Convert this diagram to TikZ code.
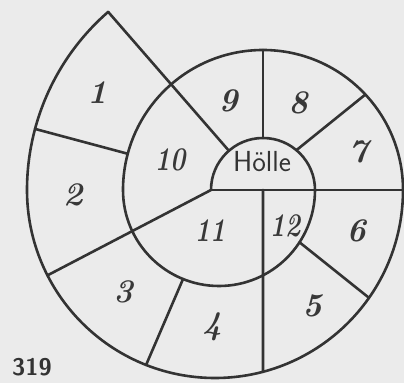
\documentclass[tikz,border=0pt]{standalone}
\usetikzlibrary{calc}
\begin{document}
\begin{tikzpicture}[x=1pt, y=1pt,
  wall/.style={line width=2.6pt, draw=black!80, line cap=round, line join=round},
  num/.style={font=\fontsize{33}{33}\selectfont\bfseries\itshape, text=black!78},
  pair/.style={num, xscale=0.78}]
  \useasboundingbox (0,0) rectangle (404,383);
  \fill[black!8] (0,0) rectangle (404,383);
  \coordinate (O) at (263,193);
  \coordinate (A) at (219,193);
  \coordinate (B) at (215,193);
  \draw[wall] ($(O)+(180:52pt)$) arc[start angle=180, end angle=0, radius=52pt]
    arc[start angle=0, end angle=-180, radius=96pt]
    arc[start angle=180, end angle=0, radius=140pt]
    arc[start angle=0, end angle=-180, radius=188pt]
    arc[start angle=180, end angle=131, radius=236pt];
  \draw[wall] ($(O)+(131:52pt)$) -- ($(O)+(131:236pt)$);
  \draw[wall] ($(O)+(90:52pt)$) -- ($(O)+(90:140pt)$);
  \draw[wall] ($(O)+(50:52pt)$) -- ($(O)+(43:140pt)$);
  \draw[wall] ($(O)+(180:52pt)$) -- ($(O)+(0:140pt)$);
  \draw[wall] ($(A)+(-33:96pt)$) -- ($(B)+(-35:188pt)$);
  \draw[wall] (O) -- ($(B)+(-75.2:188pt)$);
  \draw[wall] ($(A)+(-112:96pt)$) -- ($(B)+(-111.5:188pt)$);
  \draw[wall] ($(O)+(180:52pt)$) -- ($(B)+(-153:188pt)$);
  \draw[wall] ($(O)+(165:140pt)$) -- ($(O)+(165:236pt)$);
  \node[num] (n1) at (97,290) {1};
  \node[num] (n2) at (73,188) {2};
  \node[num] (n3) at (123,91) {3};
  \node[num] (n4) at (212,56) {4};
  \node[num] (n5) at (312,77) {5};
  \node[num] (n6) at (356,152) {6};
  \node[num] (n7) at (358,231) {7};
  \node[num] (n8) at (298,280) {8};
  \node[num] (n9) at (228,282) {9};
  \node[pair] (n10) at (170,223) {10};
  \node[pair] (n11) at (210,152) {11};
  \node[pair] (n12) at (285,157) {12};
  \node[font=\fontsize{29}{29}\selectfont\sffamily, text=black!80] (hell) at (262,221) {Hölle};
  \node[font=\fontsize{24}{24}\selectfont\sffamily\bfseries, text=black!80] (fig) at (32,16) {319};
\end{tikzpicture}
\end{document}
